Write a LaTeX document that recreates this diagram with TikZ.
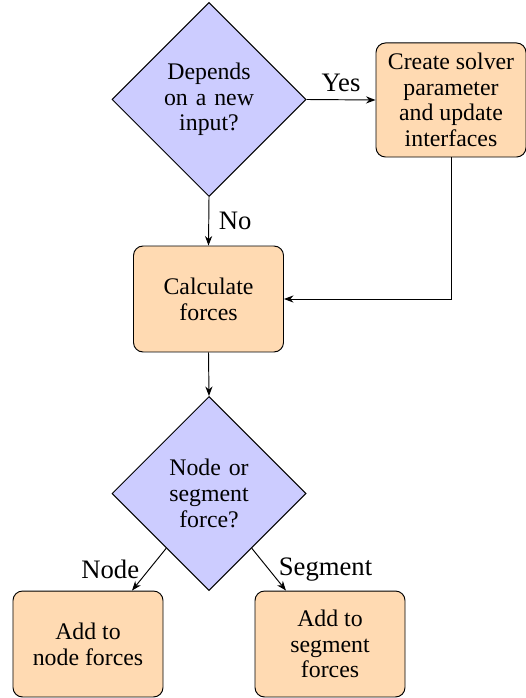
\documentclass[tikz,border=0pt]{standalone}
\usepackage{fontspec}
\setmainfont{Liberation Serif}
\usetikzlibrary{shapes.geometric,arrows.meta,calc}
\definecolor{decfill}{RGB}{204,204,255}
\definecolor{boxfill}{RGB}{255,218,178}
\begin{document}
\begin{tikzpicture}[x=0.42pt,y=-0.42pt,
  font=\fontsize{10}{10.8}\selectfont,
  decision/.style={diamond,draw,fill=decfill,aspect=1,inner sep=0pt,minimum width=81.5pt,minimum height=81.5pt,align=center,text width=50pt},
  process/.style={rectangle,draw,rounded corners=4pt,fill=boxfill,align=center,minimum width=63pt,inner sep=1pt},
  conn/.style={-{Stealth[length=4pt,width=3pt]},line width=0.4pt},
  lbl/.style={inner sep=4pt,font=\fontsize{11.2}{12}\selectfont}]
\useasboundingbox (0,0) rectangle (526,698);
\node[decision] (d1) at (209,99.5) {Depends\\on a new\\input?};
\node[process,minimum height=47.9pt] (create) at (451,100) {Create solver\\parameter\\and update\\interfaces};
\node[process,minimum height=44.5pt] (calc) at (208.5,299) {Calculate\\forces};
\node[decision] (d2) at (209,493.5) {Node or\\segment\\force?};
\node[process,minimum height=44.5pt] (addn) at (88,644) {Add to\\node forces};
\node[process,minimum height=44.5pt] (adds) at (330,644) {Add to\\segment\\forces};
\coordinate (nend) at ($(addn.north)+(44,0)$);
\coordinate (send) at ($(adds.north)+(-44,0)$);
\draw[conn] (d1.east) -- node[lbl,above,inner sep=3pt] {Yes} (create.west);
\draw[conn] (d1.south) -- node[lbl,right,pos=0.5] {No} (calc.north);
\draw[conn] (create.south) |- (calc.east);
\draw[conn] (calc.south) -- (d2.north);
\draw[conn] (d2.232) -- node[lbl,left] {Node} (nend);
\draw[conn] (d2.308) -- node[lbl,right] {Segment} (send);
\end{tikzpicture}
\end{document}
